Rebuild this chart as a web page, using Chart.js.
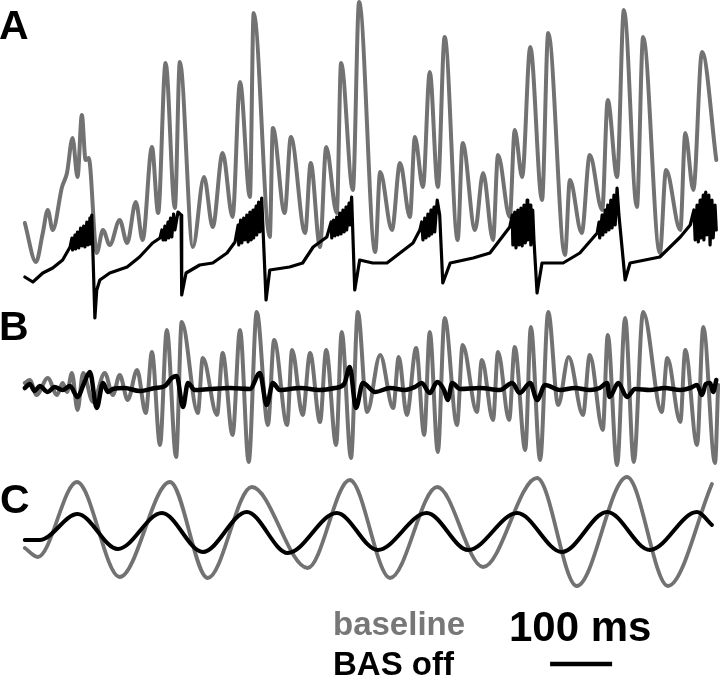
<!DOCTYPE html>
<html>
<head>
<meta charset="utf-8">
<script src="https://cdn.jsdelivr.net/npm/chart.js@4/dist/chart.umd.min.js"></script>
<style>
    body { margin: 0; background: #fff; }
    #wrap { position: relative; width: 720px; height: 681px; overflow: hidden; }
    #chartTraces { position: absolute; left: 0; top: 0; }
    .lbl { position: absolute; font-family: "Liberation Sans", Arial, sans-serif; font-weight: bold; white-space: nowrap; }
</style>
</head>
<body>
<div id="wrap">
    <canvas id="chartTraces" width="720" height="681"></canvas>
    <div class="lbl" style="left:-1px;top:5px;font-size:41px;line-height:41px;">A</div>
    <div class="lbl" style="left:-1px;top:306px;font-size:41px;line-height:41px;">B</div>
    <div class="lbl" style="left:0px;top:479px;font-size:41px;line-height:41px;">C</div>
    <div class="lbl" style="left:333px;top:607px;font-size:33px;line-height:33px;color:#777;">baseline</div>
    <div class="lbl" style="left:333px;top:647px;font-size:33px;line-height:33px;color:#000;">BAS off</div>
    <div class="lbl" style="left:509px;top:606px;font-size:42px;line-height:42px;color:#000;">100 ms</div>
</div>
<script>
// time in ms, amplitude in arbitrary units

// A: raw trace
var aBaseT = [0,18,29,37,45,60,68,77,85,92,98,103,116,126,137,153,165,179,190,205,215,227,242,250,271,289,303,319,335,347,363,369,395,400,419,429,452,461,476,486,503,510,529,539,565,573,592,605,621,629,642,653,666,677,698,706,726,739,755,763,782,790,802,815,834,844,871,879,898,911,931,940,955,966,987,997,1024,1034,1057,1065,1078,1092,1115];
var aBaseV = [47,8,37,60,40,83,97,132,93,155,110,112,17,40,25,50,27,68,30,123,57,207,62,208,23,93,43,117,53,188,73,257,33,142,57,133,37,107,23,123,57,207,80,268,18,98,40,107,53,133,83,198,83,233,30,127,40,97,30,115,53,140,93,223,70,237,15,90,37,115,60,170,93,260,63,233,17,100,40,137,80,218,110];

var aOffT = [0,13,29,45,61,73,
    76,77,81,82,85,87,90,92,95,97,100,102,105,106,108,
    113,116,121,137,165,185,206,218,
    221,223,226,227,231,232,235,237,240,242,247,252,
    253,260,282,303,326,339,
    344,345,348,350,353,355,358,360,363,365,368,369,373,374,377,379,382,
    389,395,427,448,465,487,
    494,495,498,500,503,505,508,510,513,515,518,519,523,524,527,
    532,540,561,584,605,626,637,
    640,642,645,647,650,652,655,656,660,661,665,669,
    674,686,723,750,766,782,
    786,787,790,792,795,797,800,802,805,807,810,811,815,816,819,821,
    826,834,868,895,923,
    926,927,931,932,936,937,940,942,945,947,950,952,955,958,
    968,976,1024,1057,1073,
    1079,1081,1084,1086,1089,1090,1094,1095,1098,1100,1103,1105,1108,1110,1113,1115];
var aOffV = [-7,-12,-3,2,10,23,
    32,20,35,21,38,22,42,24,44,23,48,25,52,26,55,
    -48,-20,-10,-3,3,13,27,32,
    40,30,44,30,48,32,52,33,56,40,58,55,
    -25,-3,5,7,17,28,
    45,25,50,27,52,30,55,28,58,30,60,32,64,35,68,38,72,
    -30,0,3,7,23,33,
    48,32,50,34,53,35,57,36,60,38,63,40,67,45,73,
    -20,10,7,7,17,27,40,
    48,30,52,32,56,34,60,36,63,38,70,55,
    -13,7,12,17,30,43,
    55,25,58,22,60,25,62,24,65,27,70,30,65,25,60,30,
    -23,7,7,17,37,
    48,32,55,35,60,38,65,40,70,42,75,45,82,55,
    -10,7,13,33,45,
    60,30,65,28,70,32,75,30,78,35,75,25,70,32,65,40];

// B: fast band
var bBaseT = [0,8,19,37,52,61,68,76,85,94,110,129,142,153,166,181,195,205,218,229,244,253,279,287,310,319,335,347,361,374,392,402,423,431,448,460,476,486,502,511,526,537,552,573,594,603,616,631,644,653,666,677,697,706,729,737,755,763,781,790,807,816,831,844,860,877,900,911,932,940,955,968,982,997,1027,1036,1057,1065,1084,1094,1113,1118];
var bBaseV = [7,10,-5,12,-5,7,-2,17,-20,17,-12,17,-5,15,-10,20,-23,38,-55,60,-67,68,-23,32,-25,37,-45,60,-72,78,-35,50,-35,40,-25,37,-32,40,-55,58,-68,78,-22,35,-18,33,-25,42,-45,58,-62,72,-35,45,-22,30,-30,38,-30,43,-60,63,-70,78,-15,33,-25,35,-40,55,-75,72,-72,78,-22,32,-32,40,-55,63,-73,5];

var bOffT = [0,8,16,24,37,48,61,73,85,95,105,116,126,134,142,161,185,210,226,237,245,255,263,274,298,331,363,379,390,400,411,444,476,500,515,524,534,545,565,589,613,629,640,653,665,676,682,689,702,734,766,786,798,815,826,839,863,887,911,927,939,943,957,971,984,1008,1032,1057,1073,1084,1092,1098,1105,1110,1115];
var bOffV = [2,6,-1,4,-2,3,0,4,-7,6,18,-18,7,-2,1,2,-1,2,4,12,14,-17,7,0,1,2,1,17,-15,7,0,2,0,2,6,23,-18,7,-2,2,0,3,7,-3,8,0,-10,7,1,2,0,7,-3,7,-10,5,0,2,0,2,7,-7,7,-7,1,0,2,0,2,5,-5,6,7,-2,10];

// C: slow band
var cBaseT = [0,21,84,153,234,295,366,456,524,589,665,739,826,890,971,1037,1108];
var cBaseV = [-16,-25,50,-45,50,-46,45,-36,52,-46,45,-35,54,-54,55,-54,48];

var cOffT = [0,24,85,150,221,287,358,424,503,569,648,715,794,866,939,1008,1084,1108];
var cOffV = [-8,-8,18,-17,19,-20,20,-21,19,-18,19,-18,19,-20,20,-18,20,7];

// 100 ms scale bar
var barT = [847, 947];
var barV = [-132, -132];

var GRAY = '#727272';

function pts(t, v) {
    if (t.length != v.length) {
        console.error('length mismatch', t.length, v.length);
    }
    var out = [];
    for (var i = 0; i < t.length; i++) {
        out.push({ x: t[i], y: v[i] });
    }
    return out;
}

function trace(t, v, color, width, axis, smooth, order) {
    return {
        data: pts(t, v),
        borderColor: color,
        borderWidth: width,
        pointRadius: 0,
        fill: false,
        yAxisID: axis,
        cubicInterpolationMode: smooth ? 'monotone' : 'default',
        tension: 0,
        borderJoinStyle: 'round',
        borderCapStyle: 'round',
        clip: false,
        order: order
    };
}

var ctx = document.getElementById('chartTraces').getContext('2d');

var tracesChart = new Chart(ctx, {
    type: 'line',
    data: {
        datasets: [
            trace(aOffT, aOffV, '#000', 3.2, 'yA', false, 0),
            trace(aBaseT, aBaseV, GRAY, 4, 'yA', true, 1),
            trace(bOffT, bOffV, '#000', 4.5, 'yB', true, 0),
            trace(bBaseT, bBaseV, GRAY, 4, 'yB', true, 1),
            trace(cOffT, cOffV, '#000', 4, 'yC', true, 0),
            trace(cBaseT, cBaseV, GRAY, 3.8, 'yC', true, 1),
            {
                data: pts(barT, barV),
                borderColor: '#000',
                borderWidth: 4.5,
                pointRadius: 0,
                yAxisID: 'yC',
                borderCapStyle: 'butt',
                clip: false,
                order: 0
            }
        ]
    },
    options: {
        responsive: false,
        animation: false,
        events: [],
        layout: { padding: 0 },
        plugins: {
            legend: { display: false },
            tooltip: { enabled: false }
        },
        scales: {
            x: { type: 'linear', min: -40, max: 1121, display: false },
            yA: { type: 'linear', min: -411, max: 270, display: false },
            yB: { type: 'linear', min: -291, max: 390, display: false },
            yC: { type: 'linear', min: -149, max: 532, display: false }
        }
    }
});
</script>
</body>
</html>
